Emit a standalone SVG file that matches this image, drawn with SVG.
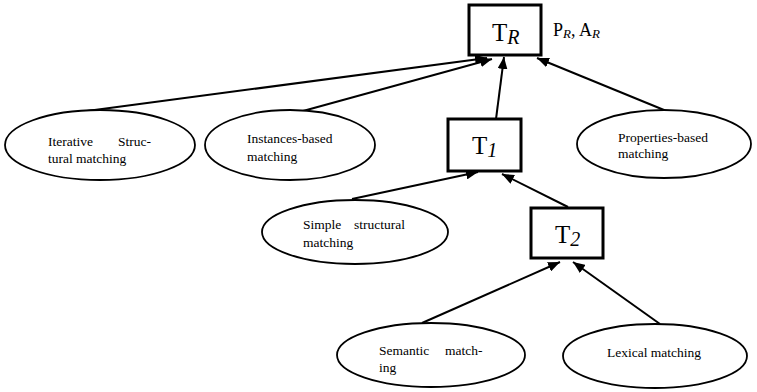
<svg xmlns="http://www.w3.org/2000/svg" width="757" height="392" viewBox="0 0 757 392">
<style>
.box{fill:#fff;stroke:#000;stroke-width:3}
.ell{fill:#fff;stroke:#000;stroke-width:1.8}
text{font-family:'Liberation Serif','Times New Roman','DejaVu Serif',serif;fill:#000}
.lbl{font-size:13.5px}
.big{font-size:25px}
.sub{font-style:italic;font-size:20px}
.pa{font-size:18px}
.psub{font-style:italic;font-size:13px}
.con line{stroke:#000;stroke-width:2;marker-end:url(#ah)}
</style>
<defs>
<marker id="ah" viewBox="0 0 12 10" refX="12" refY="5" markerWidth="12" markerHeight="10" markerUnits="userSpaceOnUse" orient="auto">
<path d="M0,0 L12,5 L0,10 z" fill="#000"/>
</marker>
</defs>
<rect width="757" height="392" fill="#fff"/>
<g id="connectors" class="con">
<line x1="87" y1="111" x2="487" y2="58"/>
<line x1="303" y1="111" x2="492" y2="59"/>
<line x1="496" y1="119" x2="504" y2="57"/>
<line x1="664" y1="110" x2="537" y2="58"/>
<line x1="352" y1="199" x2="478" y2="172"/>
<line x1="568" y1="207" x2="502" y2="174"/>
<line x1="422" y1="323" x2="560" y2="262"/>
<line x1="660" y1="324" x2="573" y2="262"/>
</g>
<g id="TR">
<rect class="box" x="469" y="5" width="72" height="50"/>
<text class="big" x="492" y="41">T<tspan class="sub" dy="3">R</tspan></text>
</g>
<g id="PA">
<text class="pa" x="553" y="36">P<tspan class="psub" dy="2">R</tspan><tspan dy="-2">, A</tspan><tspan class="psub" dy="2">R</tspan></text>
</g>
<g id="T1">
<rect class="box" x="448" y="119" width="73" height="52"/>
<text class="big" x="472" y="154">T<tspan class="sub" dy="3">1</tspan></text>
</g>
<g id="T2">
<rect class="box" x="531" y="208" width="72" height="50"/>
<text class="big" x="555" y="243">T<tspan class="sub" dy="3">2</tspan></text>
</g>
<g id="iterative">
<ellipse class="ell" cx="100" cy="145" rx="95" ry="35"/>
<text class="lbl" x="48" y="146">Iterative<tspan x="118">Struc-</tspan><tspan x="48" y="163">tural matching</tspan></text>
</g>
<g id="instances">
<ellipse class="ell" cx="290" cy="145" rx="85" ry="35"/>
<text class="lbl" x="247" y="143">Instances-based<tspan x="247" y="161">matching</tspan></text>
</g>
<g id="properties">
<ellipse class="ell" cx="664" cy="144" rx="87" ry="34"/>
<text class="lbl" x="618" y="142">Properties-based<tspan x="618" y="158">matching</tspan></text>
</g>
<g id="simple">
<ellipse class="ell" cx="355" cy="232" rx="93" ry="32"/>
<text class="lbl" x="303" y="229">Simple<tspan x="354">structural</tspan><tspan x="303" y="247">matching</tspan></text>
</g>
<g id="semantic">
<ellipse class="ell" cx="431" cy="355" rx="94" ry="32"/>
<text class="lbl" x="379" y="355">Semantic<tspan x="445">match-</tspan><tspan x="379" y="372">ing</tspan></text>
</g>
<g id="lexical">
<ellipse class="ell" cx="655" cy="356" rx="92" ry="32"/>
<text class="lbl" x="607" y="357">Lexical matching</text>
</g>
</svg>
